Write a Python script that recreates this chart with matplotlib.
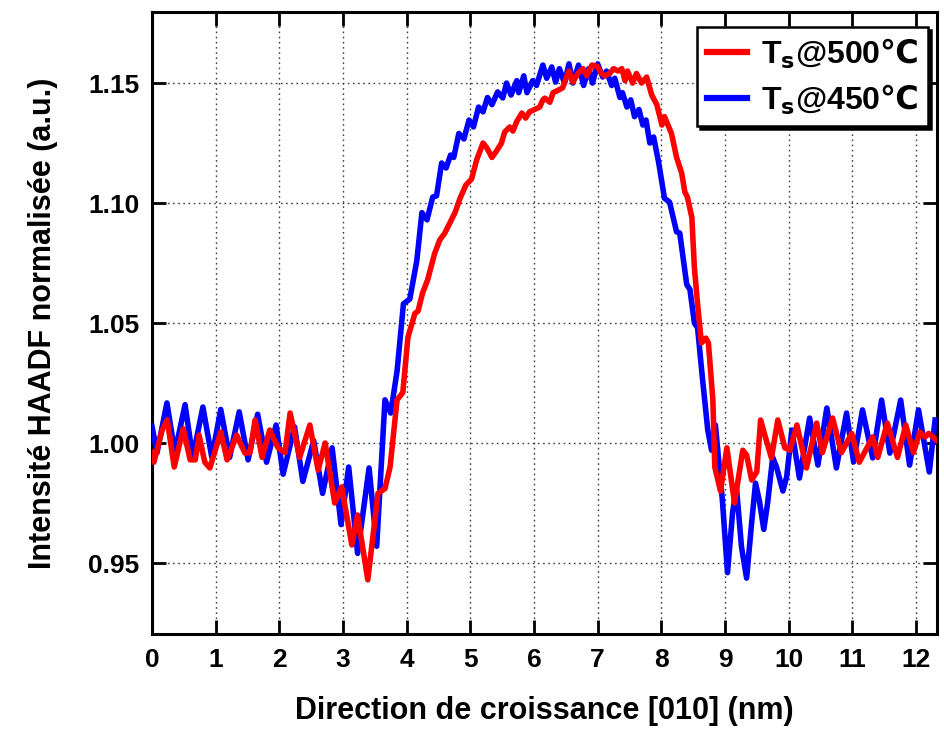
import numpy as np
import matplotlib
matplotlib.use('Agg')
import matplotlib.pyplot as plt
from matplotlib.lines import Line2D

plt.rcParams['font.family'] = ['Liberation Sans', 'DejaVu Sans']
plt.rcParams['font.weight'] = 'bold'

# HAADF intensity profiles along the growth direction
x_450 = [0.00, 0.08, 0.235, 0.36, 0.52, 0.64, 0.80, 0.94, 1.08, 1.22, 1.37, 1.51,
         1.66, 1.80, 1.95, 2.06, 2.24, 2.37, 2.54, 2.68, 2.83, 2.97, 3.09, 3.23,
         3.41, 3.53, 3.66, 3.75, 3.85, 3.95, 4.05, 4.16, 4.24, 4.32, 4.41, 4.47,
         4.55, 4.62, 4.69, 4.74, 4.82, 4.90, 4.98, 5.05, 5.13, 5.20, 5.27, 5.34,
         5.43, 5.51, 5.57, 5.64, 5.73, 5.76, 5.84, 5.89, 5.98, 6.04, 6.14, 6.20,
         6.28, 6.34, 6.40, 6.48, 6.55, 6.61, 6.70, 6.78, 6.86, 6.92, 7.00, 7.08,
         7.14, 7.22, 7.27, 7.35, 7.39, 7.46, 7.52, 7.58, 7.65, 7.71, 7.76, 7.82,
         7.88, 7.96, 8.05, 8.13, 8.24, 8.29, 8.40, 8.45, 8.52, 8.57, 8.65, 8.73,
         8.79, 8.85, 8.96, 9.04, 9.12, 9.18, 9.26, 9.34, 9.42, 9.48, 9.54, 9.61,
         9.67, 9.75, 9.81, 9.91, 9.97, 10.05, 10.17, 10.33, 10.46, 10.60, 10.75,
         10.91, 11.02, 11.16, 11.32, 11.46, 11.59, 11.76, 11.90, 12.04, 12.21, 12.30]
y_450 = [1.007, 0.996, 1.0167, 0.996, 1.016, 0.994, 1.015, 0.994, 1.014, 0.994, 1.013, 0.993,
         1.012, 0.992, 1.0075, 0.987, 1.0067, 0.984, 1.001, 0.979, 0.998, 0.966, 0.990, 0.954,
         0.9896, 0.957, 1.018, 1.0125, 1.030, 1.058, 1.060, 1.076, 1.096, 1.093, 1.1025, 1.103,
         1.1167, 1.1146, 1.120, 1.119, 1.129, 1.1267, 1.1346, 1.1317, 1.140, 1.138, 1.144, 1.141,
         1.1463, 1.1438, 1.150, 1.145, 1.151, 1.146, 1.153, 1.146, 1.151, 1.149, 1.1575, 1.152,
         1.1567, 1.1504, 1.156, 1.150, 1.158, 1.150, 1.1575, 1.149, 1.156, 1.150, 1.158, 1.1525,
         1.155, 1.149, 1.152, 1.144, 1.146, 1.140, 1.143, 1.136, 1.139, 1.1325, 1.1346, 1.125,
         1.1275, 1.1167, 1.102, 1.1004, 1.088, 1.0875, 1.066, 1.064, 1.050, 1.048, 1.026, 1.0054,
         0.997, 1.0075, 0.976, 0.946, 0.971, 0.9817, 0.9567, 0.9437, 0.967, 0.9833, 0.976, 0.964,
         0.975, 0.994, 0.990, 0.980, 0.986, 1.0054, 0.9854, 1.0104, 0.9908, 1.0146, 0.9896,
         1.0125, 0.9921, 1.0138, 0.9938, 1.0179, 0.9958, 1.0179, 0.9908, 1.0138, 0.9879, 1.0096]

x_500 = [0.00, 0.03, 0.16, 0.24, 0.35, 0.49, 0.60, 0.68, 0.74, 0.83, 0.91, 1.08,
         1.18, 1.33, 1.46, 1.54, 1.62, 1.73, 1.85, 1.98, 2.09, 2.17, 2.32, 2.48,
         2.61, 2.72, 2.87, 2.98, 3.14, 3.23, 3.39, 3.55, 3.66, 3.74, 3.85, 3.94,
         4.02, 4.13, 4.18, 4.25, 4.33, 4.44, 4.52, 4.60, 4.68, 4.76, 4.84, 4.93,
         5.02, 5.10, 5.20, 5.26, 5.34, 5.42, 5.49, 5.54, 5.62, 5.67, 5.73, 5.81,
         5.87, 5.93, 6.01, 6.09, 6.14, 6.17, 6.25, 6.30, 6.38, 6.45, 6.51, 6.55,
         6.61, 6.69, 6.77, 6.83, 6.91, 6.99, 7.06, 7.11, 7.19, 7.25, 7.32, 7.38,
         7.43, 7.47, 7.55, 7.61, 7.69, 7.77, 7.85, 7.93, 8.01, 8.05, 8.16, 8.24,
         8.32, 8.37, 8.41, 8.48, 8.52, 8.57, 8.63, 8.70, 8.74, 8.81, 8.84, 8.93,
         9.03, 9.15, 9.28, 9.34, 9.42, 9.50, 9.56, 9.64, 9.73, 9.83, 9.94, 10.02,
         10.13, 10.28, 10.44, 10.53, 10.69, 10.83, 10.99, 11.11, 11.32, 11.40, 11.55,
         11.71, 11.84, 11.96, 12.06, 12.14, 12.20, 12.33]
y_500 = [0.996, 0.992, 1.0054, 1.0096, 0.990, 1.006, 0.993, 0.993, 1.0033, 0.992, 0.9896, 1.0046,
         0.993, 1.0033, 0.9958, 0.996, 1.0096, 0.994, 1.0054, 0.998, 0.996, 1.0125, 0.994, 1.0075,
         0.9887, 1.000, 0.975, 0.9817, 0.9575, 0.970, 0.943, 0.979, 0.981, 0.990, 1.018, 1.021,
         1.044, 1.054, 1.055, 1.0625, 1.068, 1.079, 1.0846, 1.0875, 1.0917, 1.096, 1.102, 1.1075,
         1.110, 1.118, 1.125, 1.123, 1.119, 1.122, 1.125, 1.1296, 1.1317, 1.130, 1.134, 1.1375,
         1.1354, 1.138, 1.139, 1.140, 1.143, 1.1437, 1.142, 1.146, 1.147, 1.148, 1.1525, 1.155,
         1.1504, 1.154, 1.156, 1.153, 1.1575, 1.157, 1.154, 1.153, 1.154, 1.156, 1.155, 1.156,
         1.151, 1.155, 1.150, 1.154, 1.150, 1.1525, 1.145, 1.141, 1.1325, 1.136, 1.129, 1.119,
         1.1125, 1.1046, 1.1025, 1.094, 1.073, 1.058, 1.0417, 1.0437, 1.0417, 1.018, 0.990, 0.980,
         0.998, 0.975, 0.997, 0.995, 0.9846, 0.988, 1.0096, 1.002, 0.9938, 1.0096, 0.998, 0.997,
         1.0075, 0.9896, 1.0083, 0.996, 1.0104, 0.996, 1.004, 0.992, 1.0025, 0.994, 1.0083,
         0.994, 1.0075, 0.996, 1.0046, 1.0025, 1.004, 1.001]

labels = [r'T$_\mathbf{s}$@500$\mathbf{℃}$', r'T$_\mathbf{s}$@450$\mathbf{℃}$']
xticks = np.arange(0, 13, 1)
yticks = [0.95, 1.00, 1.05, 1.10, 1.15]

fig = plt.figure(figsize=(9.45, 7.33), dpi=100)
ax = fig.add_axes([0.1608, 0.135, 0.8307, 0.8486])

ax.plot(x_450, y_450, color='#0000ff', lw=4.0, solid_joinstyle='round', zorder=3)
ax.plot(x_500, y_500, color='#ff0000', lw=4.0, solid_joinstyle='round', zorder=4)

ax.set_xlim(0, 12.33)
ax.set_ylim(0.9204, 1.1796)
ax.set_xticks(xticks)
ax.set_yticks(yticks)
ax.set_yticklabels(['%.2f' % v for v in yticks])

ax.grid(True, linestyle=(0, (1.2, 2.5)), color='0.25', linewidth=1.0)
ax.set_axisbelow(True)

for s in ax.spines.values():
    s.set_linewidth(2.2)
ax.tick_params(direction='in', length=10, width=2, top=True, right=True,
               labelsize=19)
ax.tick_params(axis='x', pad=10)
ax.tick_params(axis='y', pad=9)

ax.set_xlabel('Direction de croissance [010] (nm)', fontsize=22, fontweight='bold', labelpad=17)
ax.set_ylabel('Intensité HAADF normalisée (a.u.)', fontsize=22, fontweight='bold', labelpad=22)

handles = [Line2D([], [], color='#ff0000', lw=4.5), Line2D([], [], color='#0000ff', lw=4.5)]
leg = ax.legend(handles, labels, loc='upper right', bbox_to_anchor=(0.9885, 0.976),
                borderaxespad=0, fancybox=False, shadow={'color': 'black', 'alpha': 1},
                framealpha=1, edgecolor='black', fontsize=23, handlelength=1.25,
                handletextpad=0.45, borderpad=0.3, labelspacing=0.35)
leg.get_frame().set_linewidth(1.8)
for t in leg.get_texts():
    t.set_fontweight('bold')

fig.savefig('out.png', dpi=100)
